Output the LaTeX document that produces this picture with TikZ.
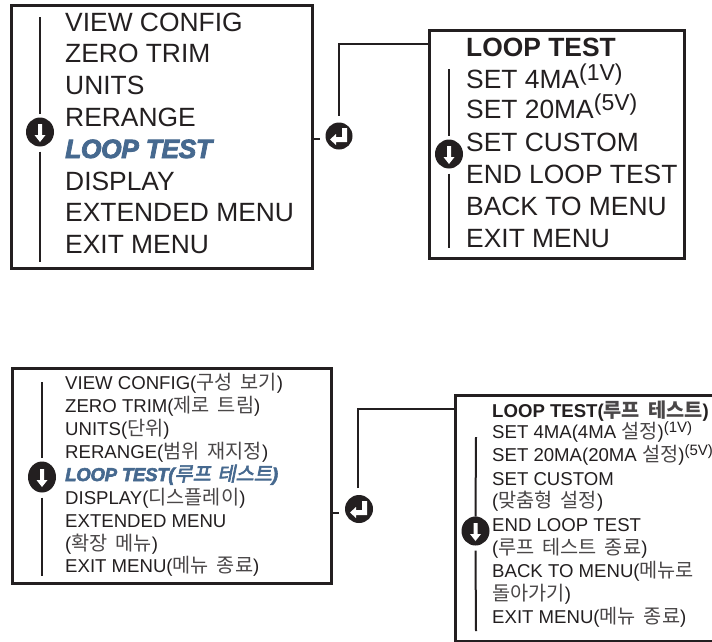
\documentclass[tikz,border=0pt]{standalone}
\usepackage{fontspec}
\usetikzlibrary{shapes.geometric}
\setmainfont{Liberation Sans}
\newfontfamily\kofont{Noto Sans CJK KR}[Scale=1.06,WordSpace=1.8]
\newfontfamily\koslant{Noto Sans CJK KR}[Scale=1.06,WordSpace=1.5,FakeBold=3,FakeSlant=0.2]
\newfontfamily\loopfont{Liberation Sans Bold Italic}[FakeBold=3,LetterSpace=-1.5]
\newcommand\ko[1]{{\kofont\color{koc}#1}}
\definecolor{ink}{HTML}{231F20}
\definecolor{koc}{HTML}{4A4748}
\definecolor{blueitem}{HTML}{46698F}
\tikzset{
  panel/.style={draw=ink,line width=3pt,fill=white,inner sep=0pt,outer sep=0pt,anchor=north west},
  big/.style={anchor=base west,inner sep=0pt,text=ink,font=\fontsize{26.4}{26.4}\selectfont},
  small/.style={anchor=base west,inner sep=0pt,text=ink,font=\fontsize{18.6}{18.6}\selectfont},
  rail/.style={draw=ink,line width=2pt},
  wire/.style={draw=ink,line width=1.2pt},
  downdot/.style={ellipse,fill=ink,inner sep=0pt,outer sep=0pt,minimum width=28pt},
  enterdot/.style={circle,fill=ink,inner sep=0pt,outer sep=0pt},
  glyph/.style={fill=white}
}
\newcommand\downglyph[1]{\fill[glyph,shift={(#1.center)}] (-2,-8)--(2,-8)--(2,3)--(5.5,3)--(0,10)--(-5.5,3)--(-2,3)--cycle;}
\newcommand\enterglyph[1]{\fill[glyph,shift={(#1.center)}] (3,-8)--(8,-8)--(8,6)--(-3,6)--(-3,9)--(-9,3.5)--(-3,-2)--(-3,1)--(3,1)--cycle;}
\begin{document}
\begin{tikzpicture}[x=1pt,y=-1pt]
\useasboundingbox (0,0) rectangle (712,641);
\clip (0,0) rectangle (712,641);
\fill[white] (0,0) rectangle (712,641);
% panels
\node[panel,minimum width=301pt,minimum height=263.5pt] (p1) at (11.5,5) {};
\node[panel,minimum width=254.5pt,minimum height=228pt] (p2) at (429.5,30.5) {};
\node[panel,minimum width=319pt,minimum height=215pt] (p3) at (12,368) {};
\node[panel,minimum width=300pt,minimum height=246pt] (p4) at (455,395) {};
% panel 1 text
\node[big] (a1) at (65,31) {VIEW CONFIG};
\node[big] (a2) at (65,62) {ZERO TRIM};
\node[big] (a3) at (65,94) {UNITS};
\node[big] (a4) at (65,126) {RERANGE};
\node[big,text=blueitem] (a5) at (65,158) {\loopfont LOOP TEST};
\node[big] (a6) at (65,190) {DISPLAY};
\node[big] (a7) at (65,221) {EXTENDED MENU};
\node[big] (a8) at (65,253) {EXIT MENU};
% panel 2 text
\node[big] (b1) at (466,56) {\bfseries LOOP TEST};
\node[big] (b2) at (466,88) {SET 4MA\raisebox{8pt}{\fontsize{23}{23}\selectfont(1V)}};
\node[big] (b3) at (466,118) {SET 20MA\raisebox{8pt}{\fontsize{23}{23}\selectfont(5V)}};
\node[big] (b4) at (466,151) {SET CUSTOM};
\node[big] (b5) at (466,183) {END LOOP TEST};
\node[big] (b6) at (466,215) {BACK TO MENU};
\node[big] (b7) at (466,247) {EXIT MENU};
% panel 3 text
\node[small] (c1) at (65,389) {VIEW CONFIG(\ko{구성 보기})};
\node[small] (c2) at (65,412) {ZERO TRIM(\ko{제로 트림})};
\node[small] (c3) at (65,435) {UNITS(\ko{단위})};
\node[small] (c4) at (65,458) {RERANGE(\ko{범위 재지정})};
\node[small,text=blueitem] (c5) at (65,481) {{\loopfont\fontsize{18.6}{18.6}\selectfont LOOP TEST(}{\koslant 루프 테스트}{\loopfont\fontsize{18.6}{18.6}\selectfont )}};
\node[small] (c6) at (65,504) {DISPLAY(\ko{디스플레이})};
\node[small] (c7) at (65,527) {EXTENDED MENU};
\node[small] (c8) at (65,550) {(\ko{확장 메뉴})};
\node[small] (c9) at (65,572) {EXIT MENU(\ko{메뉴 종료})};
% panel 4 text
\node[small] (d1) at (492,417) {\bfseries LOOP TEST(\ko{루프 테스트})};
\node[small] (d2) at (492,438) {SET 4MA(4MA \ko{설정})\raisebox{6pt}{\fontsize{15}{15}\selectfont(1V)}};
\node[small] (d3) at (492,461) {SET 20MA(20MA \ko{설정})\raisebox{6pt}{\fontsize{15}{15}\selectfont(5V)}};
\node[small] (d4) at (492,485) {SET CUSTOM};
\node[small] (d5) at (492,507) {(\ko{맞춤형 설정})};
\node[small] (d6) at (492,531) {END LOOP TEST};
\node[small] (d7) at (492,554) {(\ko{루프 테스트 종료})};
\node[small] (d8) at (492,577) {BACK TO MENU(\ko{메뉴로}};
\node[small] (d9) at (492,600) {\ko{돌아가기})};
\node[small] (d10) at (492,623) {EXIT MENU(\ko{메뉴 종료})};
% scroll rails and icons
\node[downdot,minimum height=29pt] (s1) at (40,132) {};
\draw[rail] (40,17) -- ([yshift=4pt]s1.north);
\draw[rail] ([yshift=-5pt]s1.south) -- (40,262);
\downglyph{s1}
\node[downdot,minimum height=29pt] (s2) at (449,154) {};
\draw[rail] (449,69) -- ([yshift=4pt]s2.north);
\draw[rail] ([yshift=-5pt]s2.south) -- (449,248);
\downglyph{s2}
\node[downdot,minimum height=31pt] (s3) at (42,477) {};
\draw[rail] (42,382) -- ([yshift=4pt]s3.north);
\draw[rail] ([yshift=-5pt]s3.south) -- (42,576);
\downglyph{s3}
\node[downdot,minimum height=29pt] (s4) at (475.5,531) {};
\draw[rail] (476,437) -- (s4.north);
\draw[rail] ([yshift=-5pt]s4.south) -- (476,631);
\downglyph{s4}
% enter icons and connectors
\node[enterdot,minimum size=27pt] (e1) at (339,136) {};
\enterglyph{e1}
\node[enterdot,minimum size=28pt] (e2) at (359,509) {};
\enterglyph{e2}
\coordinate (u1) at (320,139);
\coordinate (u2) at (339,513);
\coordinate (t1) at (429,44);
\coordinate (t2) at (454,409);
\draw[wire] (p1.east |- u1) -- (u1);
\draw[wire] (p3.east |- u2) -- (u2);
\draw[wire] ([yshift=7pt]e1.north) |- (t1);
\draw[wire] ([yshift=7pt,xshift=-1pt]e2.north) |- (t2);
\end{tikzpicture}
\end{document}
